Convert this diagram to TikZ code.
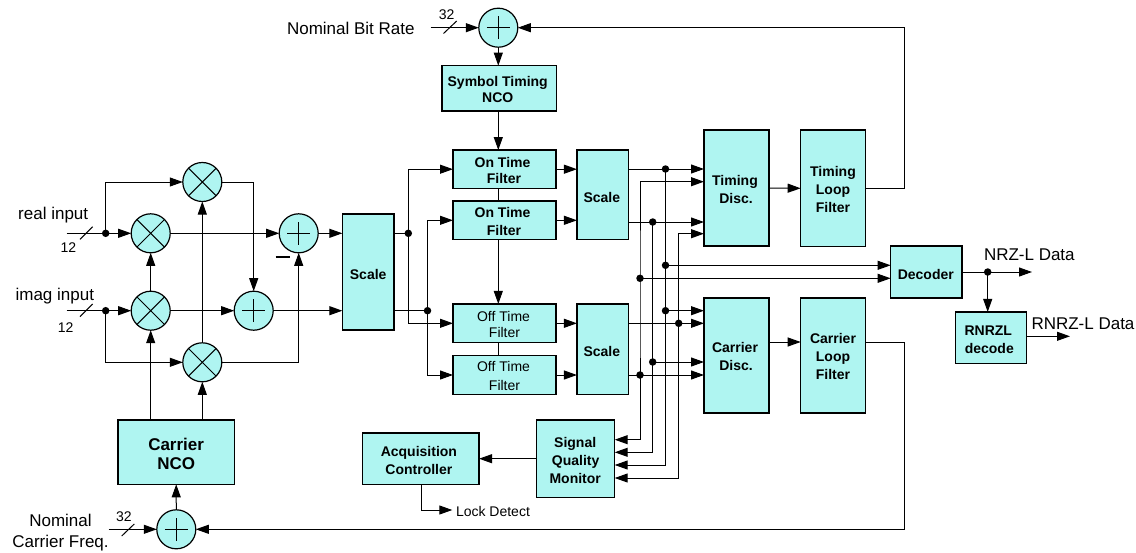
\documentclass[tikz,border=0pt]{standalone}
\usepackage{fontspec}
\setmainfont{Liberation Sans}
\usetikzlibrary{arrows.meta}
\definecolor{cy}{RGB}{175,245,241}
\newcommand{\nudgeL}[1]{\hspace*{#1}}
\newcommand{\firstS}{\rule{0pt}{12.8pt}}
\tikzset{
  x=1pt,y=-1pt,
  every path/.append style={line width=1pt},
  arr/.style={-{Triangle[length=13pt,width=9pt]}},
  both/.style={{Triangle[length=13pt,width=9pt]}-{Triangle[length=13pt,width=9pt]}},
  box/.style={draw,fill=cy,line width=1.2pt,inner sep=0pt,outer sep=0pt,align=center,
    execute at begin node={\rule{0pt}{15pt}},
    font=\fontsize{14}{18}\selectfont\bfseries},
  tightbox/.style={box,font=\fontsize{14}{16}\selectfont\bfseries},
  offbox/.style={box,font=\fontsize{14}{16}\selectfont},
  offboxb/.style={box,font=\fontsize{14}{18.7}\selectfont},
  bigbox/.style={box,font=\fontsize{17}{19}\selectfont\bfseries},
  mixer/.style={circle,draw,fill=cy,line width=1.2pt,inner sep=0pt,outer sep=0pt,minimum size=39pt,
    path picture={\draw[line width=1pt] (path picture bounding box.north west)--(path picture bounding box.south east)
      (path picture bounding box.north east)--(path picture bounding box.south west);}},
  adder/.style={circle,draw,fill=cy,line width=1.2pt,inner sep=0pt,outer sep=0pt,minimum size=39pt,
    path picture={\draw[line width=.9pt] ([xshift=-11.5pt]path picture bounding box.center)--([xshift=11.5pt]path picture bounding box.center)
      ([yshift=-11.5pt]path picture bounding box.center)--([yshift=11.5pt]path picture bounding box.center);}},
  jdot/.style={circle,fill=black,inner sep=0pt,outer sep=0pt,minimum size=7.5pt},
  lab/.style={inner sep=0pt,align=center,font=\fontsize{17}{21}\selectfont},
  small/.style={inner sep=0pt,font=\fontsize{14}{16}\selectfont},
}
\begin{document}
\begin{tikzpicture}
\useasboundingbox (0,0) rectangle (1136,552);
% sum / mix elements
\node[mixer] (mixT) at (202.3,182) {};
\node[mixer] (mixR) at (150.7,233.3) {};
\node[mixer] (mixI) at (150.7,310.7) {};
\node[mixer] (mixB) at (202.3,362.3) {};
\node[adder] (add1) at (298.7,233.3) {};
\node[adder] (add2) at (253.7,310.7) {};
\node[adder] (addT) at (498.3,27.7) {};
\node[adder] (addC) at (176.3,529.3) {};
% boxes
\node[box,minimum width=51.7pt,minimum height=116pt] (scaleM) at (368.2,272) {Scale};
\node[bigbox,minimum width=116.3pt,minimum height=64.3pt] (ncoC) at (176.15,452.2) {\rule{0pt}{15pt}Carrier\\NCO};
\node[tightbox,minimum width=114.3pt,minimum height=45.3pt] (ncoT) at (499.2,88.3) {\firstS Symbol Timing\nudgeL{3pt}\\NCO\nudgeL{3pt}};
\node[tightbox,minimum width=103pt,minimum height=38.3pt] (f1) at (504.5,169.2) {\firstS On Time\nudgeL{4pt}\\Filter\nudgeL{1pt}};
\node[box,minimum width=103pt,minimum height=38.7pt] (f2) at (504.5,220.3) {\firstS On Time\nudgeL{4pt}\\Filter\nudgeL{1pt}};
\node[offbox,minimum width=103pt,minimum height=38.7pt] (f3) at (504.5,323.3) {\firstS Off Time\nudgeL{2pt}\\Filter};
\node[offboxb,minimum width=103pt,minimum height=38.7pt] (f4) at (504.5,375) {\firstS Off Time\nudgeL{2pt}\\Filter};
\node[box,minimum width=51.7pt,minimum height=89.7pt] (scaleT) at (602.8,194.8) {Scale\nudgeL{2pt}};
\node[box,minimum width=51.7pt,minimum height=90.3pt] (scaleB) at (602.8,349.2) {Scale\nudgeL{2pt}};
\node[box,minimum width=65pt,minimum height=116pt] (tdisc) at (736.5,188) {\firstS Timing\nudgeL{3pt}\\Disc.\nudgeL{1pt}};
\node[box,minimum width=65pt,minimum height=115pt] (cdisc) at (736.5,355.5) {\firstS Carrier\nudgeL{3pt}\\Disc.\nudgeL{1pt}};
\node[box,minimum width=64.6pt,minimum height=116.7pt] (tloop) at (833,188.3) {\firstS Timing\\Loop\\Filter};
\node[box,minimum width=64.6pt,minimum height=115pt] (cloop) at (833,355.5) {\firstS Carrier\\Loop\\Filter};
\node[box,minimum width=71.3pt,minimum height=52pt] (dec) at (926.3,272) {Decoder\nudgeL{1pt}};
\node[box,minimum width=71pt,minimum height=51.7pt] (rnrz) at (990.8,337.8) {\firstS RNRZL\nudgeL{5pt}\\decode\nudgeL{3pt}};
\node[box,minimum width=78pt,minimum height=77.3pt] (sqm) at (575.7,458.7) {\firstS Signal\nudgeL{1pt}\\Quality\nudgeL{1pt}\\Monitor\nudgeL{1pt}};
\node[box,minimum width=116.3pt,minimum height=51.3pt] (acq) at (420.9,458.7) {\firstS Acquisition\nudgeL{4pt}\\Controller\nudgeL{4pt}};
% junction dots
\node[jdot] (dR) at (105.7,233.3) {};
\node[jdot] (dI) at (105.7,310.7) {};
\node[jdot] (dA) at (408.3,233.3) {};
\node[jdot] (dB) at (427.5,310.7) {};
\node[jdot] (d1) at (665.5,169) {};
\node[jdot] (d2) at (652.7,222) {};
\node[jdot] (d3) at (665.5,265.3) {};
\node[jdot] (d4) at (640,278.3) {};
\node[jdot] (d5) at (665.5,310.7) {};
\node[jdot] (d6) at (678.7,323.3) {};
\node[jdot] (d7) at (652.7,362) {};
\node[jdot] (d8) at (640,375) {};
\node[jdot] (dN) at (987.7,272) {};
% free ends
\coordinate (inR) at (66.7,233.3);
\coordinate (inI) at (66.7,310.7);
\coordinate (inT) at (430.7,27.7);
\coordinate (inC) at (108.7,529.3);
\coordinate (vx) at (498.3,0);
\coordinate (t2) at (704,181.7);
\coordinate (t4) at (704,233.7);
\coordinate (s1) at (614.7,439.7);
\coordinate (s2) at (614.7,452.3);
\coordinate (s3) at (614.7,465);
\coordinate (s4) at (614.7,478);
\coordinate (rT) at (904,188.3);
\coordinate (rC) at (904,342);
\coordinate (outN) at (1032,272);
\coordinate (outR) at (1070,336.3);
\coordinate (lockS) at (421,0);
\coordinate (lockE) at (452.3,510);
% left part
\draw[arr] (inR) -- (mixR);
\draw[arr] (inI) -- (mixI);
\draw[arr] (dR.center) |- (mixT.west);
\draw[arr] (dI.center) |- (mixB.west);
\draw[arr] (mixR) -- (add1);
\draw[arr] (mixI) -- (add2);
\draw[arr] (mixI) -- (mixR);
\draw[arr] (mixB) -- (mixT);
\draw[arr] (mixT.east) -| (add2.north);
\draw[arr] (mixB.east) -| (add1.south);
\draw[arr] (add1) -- (add1 -| scaleM.west);
\draw[arr] (add2) -- (add2 -| scaleM.west);
\draw[arr] (mixI |- ncoC.north) -- (mixI.south);
\draw[arr] (mixB |- ncoC.north) -- (mixB.south);
\draw[arr] (addC) -- (ncoC);
\draw[arr] (inC) -- (addC);
% slashes
\draw (80,239.3) -- (92.7,226.7);
\draw (80,316.7) -- (92.7,304);
\draw (121.7,536) -- (134.3,524);
\draw (443.5,33.5) -- (456.7,21);
\draw[line width=1.5pt] (275.7,257) -- (290,257);
% filter section
\draw[arr] (inT) -- (addT);
\draw[arr] (addT) -- (addT |- ncoT.north);
\draw[arr] (vx |- ncoT.south) -- (vx |- f1.north);
\draw (vx |- f1.south) -- (vx |- f2.north);
\draw[arr] (vx |- f2.south) -- (vx |- f3.north);
\draw (vx |- f3.south) -- (vx |- f4.north);
\draw (scaleM.east |- dA) -- (dA.center);
\draw (scaleM.east |- dB) -- (dB.center);
\draw[both] (f1.west) -| (dA.center) |- (f3.west);
\draw[both] (f2.west) -| (dB.center) |- (f4.west);
\draw[arr] (f1.east) -- (f1 -| scaleT.west);
\draw[arr] (f2.east) -- (f2 -| scaleT.west);
\draw[arr] (f3.east) -- (f3 -| scaleB.west);
\draw[arr] (f4.east) -- (f4 -| scaleB.west);
% discriminator section
\draw[arr] (scaleT.east |- d1) -- (tdisc.west |- d1);
\draw[arr] (scaleT.east |- d2) -- (tdisc.west |- d2);
\draw[arr] (scaleB.east |- d6) -- (cdisc.west |- d6);
\draw[arr] (scaleB.east |- d8) -- (cdisc.west |- d8);
\draw[both] (t2) -| (d4.center) |- (s1);
\draw (d2.center) -- (d7.center);
\draw[arr] (d7.center) |- (s2);
\draw (d1.center) -- (d3.center);
\draw[arr] (d3.center) |- (s3);
\draw[both] (t4) -| (d6.center) |- (s4);
\draw[arr] (d3.center) -- (d3 -| dec.west);
\draw[arr] (d4.center) -- (d4 -| dec.west);
\draw[arr] (d5.center) -- (d5 -| cdisc.west);
\draw[arr] (d7.center) -- (d7 -| cdisc.west);
\draw[arr] (tdisc.east) -- (tloop.west);
\draw[arr] (cdisc.east |- rC) -- (cloop.west |- rC);
\draw[arr] (tloop.east) -- (rT) -- (rT |- addT) -- (addT.east);
\draw[arr] (cloop.east |- rC) -- (rC) -- (rC |- addC) -- (addC.east);
\draw[arr] (dec.east) -- (outN);
\draw[arr] (dN.center) -- (dN |- rnrz.north);
\draw[arr] (rnrz.east |- outR) -- (outR);
\draw[arr] (sqm.west) -- (acq.east);
\draw[arr] (lockS |- acq.south) |- (lockE);
% labels
\node[lab] (lReal) at (53.2,215.6) {real input};
\node[lab] (lImag) at (54.8,296.3) {imag input};
\node[small] (n12a) at (68.3,247.3) {12};
\node[small] (n12b) at (65.7,327.3) {12};
\node[small] (n32a) at (446.7,15) {32};
\node[small] (n32b) at (124,516.7) {32};
\node[lab] (lBit) at (350.8,28.5) {Nominal Bit Rate};
\node[lab] (lCar) at (60.5,532.7) {Nominal\\Carrier Freq.};
\node[lab,anchor=west] (lNrz) at (983.5,255) {NRZ-L Data};
\node[lab,anchor=west] (lRnrz) at (1031,323.5) {RNRZ-L Data};
\node[small,anchor=west] (lLock) at (455.5,511) {Lock Detect};
\end{tikzpicture}
\end{document}
